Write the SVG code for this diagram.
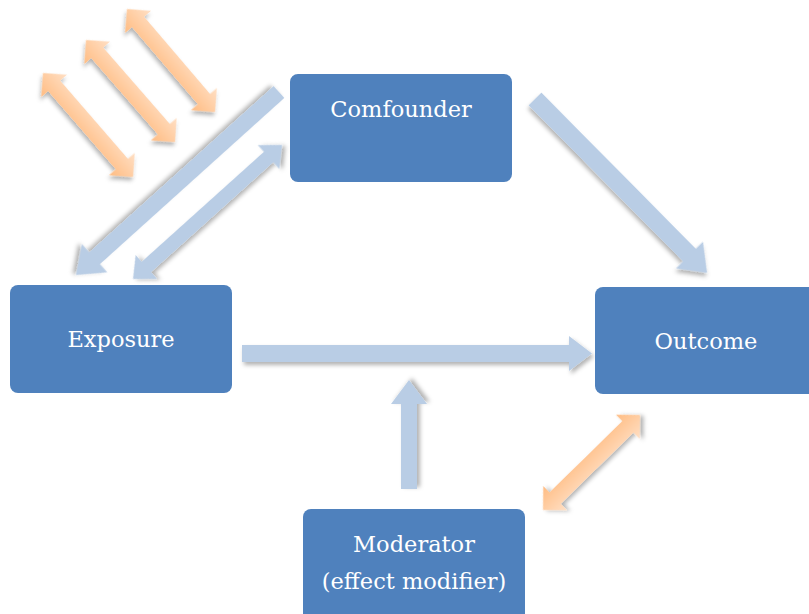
<svg xmlns="http://www.w3.org/2000/svg" width="809" height="614" viewBox="0 0 809 614">
<defs>
<style>
.node{fill:#4F81BD;}
.lbl{fill:#FFFFFF;font-family:"DejaVu Serif","Liberation Serif",serif;font-size:22.5px;text-anchor:middle;}
.blue{fill:#B9CDE5;filter:url(#sh);}
.orA{fill:url(#gA);filter:url(#sh);}
.orB{fill:url(#gB);filter:url(#sh);}
</style>
<filter id="sh" x="-20%" y="-20%" width="140%" height="140%">
<feDropShadow dx="2" dy="3" stdDeviation="2" flood-color="#000000" flood-opacity="0.3"/>
</filter>
<linearGradient id="gA" x1="0" y1="0" x2="0" y2="1">
<stop offset="0" stop-color="#FFDFC4"/>
<stop offset="1" stop-color="#FFBC82"/>
</linearGradient>
<linearGradient id="gB" x1="0" y1="0" x2="0" y2="1">
<stop offset="0" stop-color="#FFBC82"/>
<stop offset="1" stop-color="#FFDFC4"/>
</linearGradient>
</defs>
<rect width="809" height="614" fill="#FFFFFF"/>
<g id="connectors">
<polygon class="blue" transform="translate(242,353.5)" points="0,-8.5 327,-8.5 327,-17.5 350,0 327,17.5 327,8.5 0,8.5"/>
<polygon class="blue" transform="translate(409,489) rotate(-90)" points="0,-8 85,-8 85,-18 109,0 85,18 85,8 0,8"/>
<polygon class="blue" transform="translate(535,99) rotate(45.3)" points="0,-9 219.6,-9 219.6,-19 244.6,0 219.6,19 219.6,9 0,9"/>
<polygon class="blue" transform="translate(279,92) rotate(137.97)" points="0,-8 248.3,-8 248.3,-19 273.3,0 248.3,19 248.3,8 0,8"/>
<polygon class="blue" transform="translate(133,279) rotate(-41.97)" points="0,0 18,-16 18,-7 182.4,-7 182.4,-16 200.4,0 182.4,16 182.4,7 18,7 18,16"/>
<polygon class="orA" transform="translate(127,9) rotate(49.5)" points="0,0 17,-17 17,-8 118.5,-8 118.5,-17 135.5,0 118.5,17 118.5,8 17,8 17,17"/>
<polygon class="orA" transform="translate(86,40) rotate(48.9)" points="0,0 17,-17 17,-8 118.4,-8 118.4,-17 135.4,0 118.4,17 118.4,8 17,8 17,17"/>
<polygon class="orA" transform="translate(43,73) rotate(49.1)" points="0,0 17,-17 17,-8 120.5,-8 120.5,-17 137.5,0 120.5,17 120.5,8 17,8 17,17"/>
<polygon class="orB" transform="translate(543,510) rotate(-44.4)" points="0,0 17,-17 17,-8 118.8,-8 118.8,-17 135.8,0 118.8,17 118.8,8 17,8 17,17"/>
</g>
<g id="comfounder">
<rect class="node" x="290" y="74" width="222" height="108" rx="8"/>
<text class="lbl" x="401" y="117">Comfounder</text>
</g>
<g id="exposure">
<rect class="node" x="10" y="285" width="222" height="108" rx="8"/>
<text class="lbl" x="121" y="347">Exposure</text>
</g>
<g id="outcome">
<rect class="node" x="595" y="287" width="222" height="107" rx="8"/>
<text class="lbl" x="706" y="349">Outcome</text>
</g>
<g id="moderator">
<rect class="node" x="303" y="509" width="222" height="115" rx="8"/>
<text class="lbl" x="414" y="552">Moderator</text>
<text class="lbl" x="414" y="589">(effect modifier)</text>
</g>
</svg>
